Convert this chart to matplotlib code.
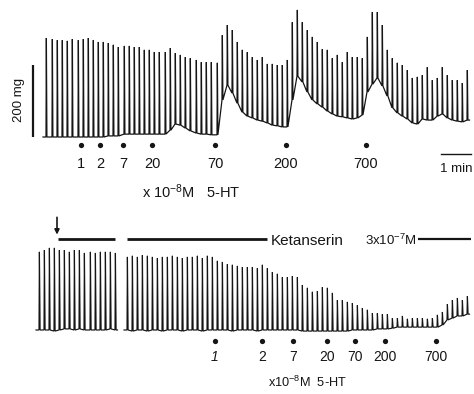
import matplotlib
matplotlib.use("Agg")
import matplotlib.pyplot as plt
from matplotlib import font_manager as fm

# ---------------- data (time in s, tension in mg) ----------------
top_t = [92, 104, 114, 124, 134, 144, 156, 166, 176, 186, 196, 206, 216, 226, 236, 248,
         258, 268, 278, 288, 298, 308, 318, 330, 340, 350, 360, 370, 380, 392, 402, 412,
         422, 434, 444, 454, 464, 474, 484, 494, 504, 514, 524, 534, 544, 554, 564, 574,
         584, 594, 604, 614, 624, 634, 644, 654, 664, 674, 684, 694, 704, 714, 724, 734,
         744, 754, 764, 774, 784, 794, 804, 814, 824, 834, 844, 854, 864, 874, 884, 894,
         904, 914, 924, 934]
top_peak = [275, 272, 269, 269, 267, 272, 269, 272, 275, 269,
            264, 264, 261, 256, 250, 253, 253, 250, 250, 242,
            242, 236, 236, 236, 247, 233, 228, 222, 219, 214,
            208, 208, 208, 206, 283, 311, 297, 264, 242, 236,
            222, 214, 222, 203, 203, 200, 200, 214, 319, 353,
            319, 297, 278, 264, 244, 242, 219, 228, 208, 236,
            222, 222, 219, 278, 347, 347, 311, 242, 219, 206,
            200, 186, 164, 167, 172, 194, 158, 164, 194, 172,
            158, 158, 150, 186]
top_base = [0, 0, 0, 0, 0, 0, 0, 0, 0, 0, 0, 0, 3, 3, 3,
            8, 8, 8, 8, 8, 8, 8, 8, 8,
            19, 36, 33, 25, 17, 11, 8, 8, 6, 6,
            103, 144, 122, 94, 69, 58, 53, 47, 44, 39, 33, 31, 28, 28,
            103, 169, 153, 125, 103, 92, 83, 72, 64, 58, 56, 53, 50, 53, 61,
            125, 147, 164, 142, 114, 81, 67, 58, 50, 39, 36, 50, 47, 47, 58,
            64, 53, 47, 44, 42, 47]

bot1_t = [78, 88, 98, 108, 118, 128, 138, 148, 158, 168, 180, 190, 200, 210, 220, 230]
bot1_peak = [217, 222, 228, 228, 222, 222, 217, 222, 222, 214, 217, 214, 217, 217, 217, 214]
bot1_base = [0, 0, 0, -3, 0, 3, 3, 0, 3, 0, 0, 0, 0, 0, 3, 0]

bot2_t = [254, 264, 274, 284, 294, 304, 314, 324, 334, 344, 354, 364, 374, 384, 394, 404,
          414, 424, 434, 444, 454, 464, 474, 484, 494, 504, 514, 524, 534, 544, 554, 564,
          574, 584, 594, 604, 614, 624, 634, 644, 654, 664, 674, 684, 694, 704, 714, 724,
          734, 744, 754, 764, 774, 784, 794, 804, 814, 824, 834, 844, 854, 864, 874, 884,
          894, 904, 914, 924, 934]
bot2_peak = [203, 206, 203, 208, 206, 203, 200, 203, 203, 206,
             203, 200, 203, 203, 206, 200, 206, 203, 192, 189,
             183, 181, 178, 175, 175, 175, 172, 181, 172, 161,
             156, 147, 147, 150, 147, 125, 117, 106, 108, 119,
             117, 103, 83, 83, 78, 75, 69, 61, 56, 47,
             47, 44, 44, 33, 33, 39, 31, 33, 33, 33,
             31, 33, 42, 50, 72, 83, 89, 83, 94]
bot2_base = [0, -3, 0, 0, -3, 0, 0, -3, 0, 0, 0, -3, 0, 0, 0, -3, 0, 0, 0, 0,
             0, -3, 0, 0, 0, 0, -3, 0, 0, 0, 0, 0, 0, 0, 0,
             -3, -3, -3, -3, -3, -3, -3, -3, -3, -3,
             0, 0, 0, 0, 0, 3, 3, 3, 5,
             8, 8, 8, 8, 8, 8, 8, 8, 8,
             14, 28, 33, 39, 39, 44]

top_dose_t = [162, 200, 246, 304, 430, 572, 732]
top_dose_lab = ["1", "2", "7", "20", "70", "200", "700"]
bot_dose_t = [430, 524, 586, 654, 710, 770, 872]
bot_dose_lab = ["1", "2", "7", "20", "70", "200", "700"]

# ---------------- fonts ----------------
def pick(names):
    for n in names:
        try:
            fm.findfont(fm.FontProperties(family=n), fallback_to_default=False)
            return n
        except Exception:
            pass
    return "DejaVu Sans"

REG = pick(["Liberation Sans", "DejaVu Sans"])
plt.rcParams["font.family"] = [REG, "DejaVu Sans"]
plt.rcParams["mathtext.fontset"] = "custom"
plt.rcParams["mathtext.rm"] = REG
plt.rcParams["mathtext.it"] = REG + ":italic"
plt.rcParams["mathtext.default"] = "regular"
INK = "#151515"

# ---------------- figure ----------------
W, H = 474, 394
fig = plt.figure(figsize=(W / 100, H / 100), dpi=100)
fig.patch.set_facecolor("white")
ax_top = fig.add_axes([0, 1 - 200 / H, 1, 200 / H])
ax_bot = fig.add_axes([0, 0, 1, 194 / H])
for a in (ax_top, ax_bot):
    a.set_axis_off()
    a.set_xlim(0, 2 * W)
ax_top.set_ylim(-175, 380.6)
ax_bot.set_ylim(-177.8, 361.1)


def trace(ax, ts, peaks, bases, up=0.7, down=1.8, lead=6, lw=0.85):
    xs, ys = [ts[0] - lead], [bases[0]]
    for t, p, b in zip(ts, peaks, bases):
        xs += [t, t + up, t + down]
        ys += [b, p, b]
    xs.append(ts[-1] + 5)
    ys.append(bases[-1])
    ax.plot(xs, ys, color=INK, lw=lw, solid_joinstyle="miter", antialiased=True)


trace(ax_top, top_t, top_peak, top_base, up=0.7, down=1.8, lw=0.9)
trace(ax_bot, bot1_t, bot1_peak, bot1_base, up=0.8, down=2.2, lw=0.85)
trace(ax_bot, bot2_t, bot2_peak, bot2_base, up=0.8, down=2.2, lw=0.85)

# scale bars (top)
ax_top.plot([66, 66], [0, 200], color=INK, lw=1.6, solid_capstyle="butt")
ax_top.text(38, 103, "200 mg", rotation=90, ha="center", va="center",
            fontsize=9.5, color=INK)
ax_top.plot([882, 942], [-47, -47], color=INK, lw=1.0)
ax_top.text(912, -97, "1 min", ha="center", va="baseline",
            fontsize=9.5, color=INK)

# dose markers
ax_top.plot(top_dose_t, [-22] * len(top_dose_t), "o", color=INK, ms=3.8, mew=0)
for t, s in zip(top_dose_t, top_dose_lab):
    ax_top.text(t, -86, s, ha="center", va="baseline", fontsize=10.5, color=INK)
ax_bot.plot(bot_dose_t, [-31] * len(bot_dose_t), "o", color=INK, ms=3.8, mew=0)
for t, s in zip(bot_dose_t, bot_dose_lab):
    ax_bot.text(t, -86, s, ha="center", va="baseline", fontsize=10, color=INK,
                style="italic" if s == "1" else "normal")

# concentration captions
ax_top.text(284, -169, "x 10$^{-8}$M   5-HT", ha="left", va="baseline",
            fontsize=10.5, color=INK, clip_on=False)
ax_bot.text(536, -158, "x10$^{-8}$M  5-HT", ha="left", va="baseline",
            fontsize=9.2, color=INK, clip_on=False)

# Ketanserin bars / labels (bottom)
ax_bot.annotate("", xy=(114, 265), xytext=(114, 313),
                arrowprops=dict(arrowstyle="-|>", lw=1.2, color=INK,
                                mutation_scale=7, shrinkA=0, shrinkB=0))
ax_bot.plot([116, 230], [253, 253], color=INK, lw=2.0, solid_capstyle="butt")
ax_bot.plot([254, 534], [253, 253], color=INK, lw=2.0, solid_capstyle="butt")
ax_bot.plot([836, 942], [253, 253], color=INK, lw=1.6, solid_capstyle="butt")
ax_bot.text(542, 236, "Ketanserin", ha="left", va="baseline",
            fontsize=11, color=INK)
ax_bot.text(730, 236, "3x10$^{-7}$M", ha="left", va="baseline",
            fontsize=9.5, color=INK)

fig.savefig("out.png", dpi=100, facecolor="white")
